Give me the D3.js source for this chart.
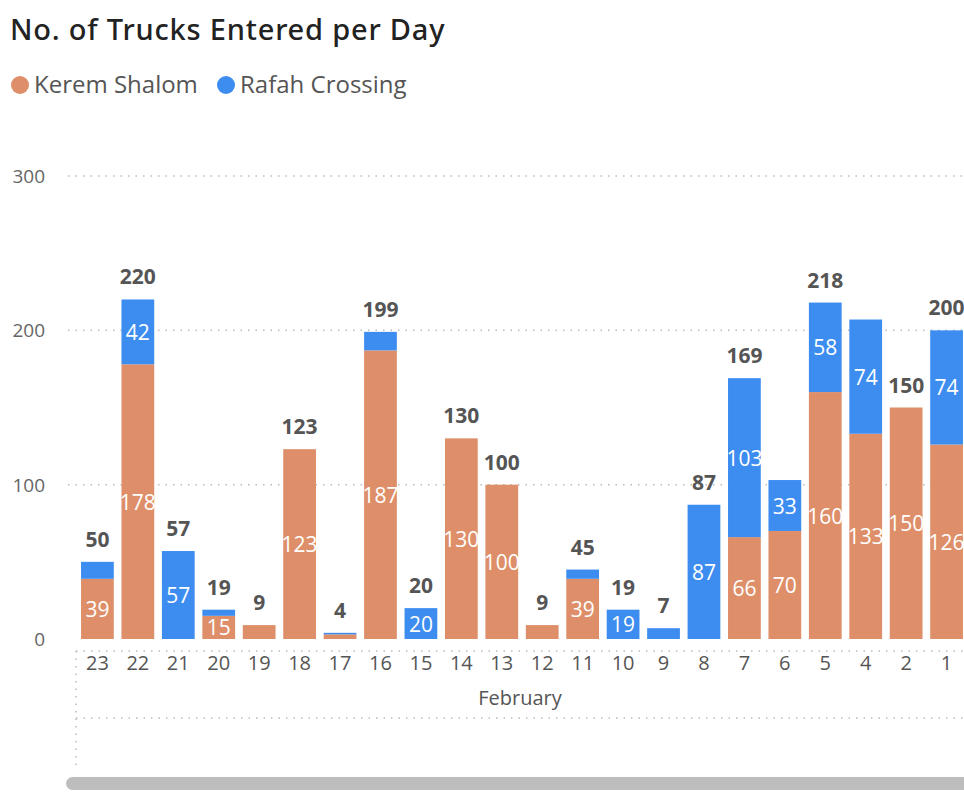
<!DOCTYPE html>
<html><head><meta charset="utf-8">
<script src="https://cdn.jsdelivr.net/npm/d3@7"></script>
<style>body{margin:0;background:#fff;font-family:"Segoe UI","Open Sans",sans-serif}</style>
</head><body><svg id="c" width="964" height="800"></svg>
<script>
var days = ["23","22","21","20","19","18","17","16","15","14","13","12","11","10","9","8","7","6","5","4","2","1"];
var kerem = [39,178,0,15,9,123,3,187,0,130,100,9,39,0,0,0,66,70,160,133,150,126];
var rafah = [11,42,57,4,0,0,1,12,20,0,0,0,6,19,7,87,103,33,58,74,0,74];
var showTotal = [1,1,1,1,1,1,1,1,1,1,1,1,1,1,1,1,1,0,1,0,1,1];
var yTicks = [0,100,200,300];

var orange = "#DE8F69", blue = "#3D8DF0";
var svg = d3.select("#c");
var x = d3.scaleBand().domain(days).range([77, 964+3]).paddingInner(0.19).paddingOuter(0.1);
var y = d3.scaleLinear().domain([0,300]).range([639,176]);

svg.append("text").attr("x",10).attr("y",40).attr("font-size",29).attr("font-weight",500).attr("fill","#222")
  .attr("letter-spacing",0.8).attr("font-family","'Noto Sans',sans-serif").text("No. of Trucks Entered per Day");
var leg = [["Kerem Shalom",orange,20],["Rafah Crossing",blue,226]];
leg.forEach(function(l){
  svg.append("circle").attr("cx",l[2]).attr("cy",85).attr("r",9).attr("fill",l[1]);
  svg.append("text").attr("x",l[2]+14).attr("y",93).attr("font-size",24).attr("fill","#555").text(l[0]);
});

yTicks.forEach(function(t){
  if(t>0) svg.append("line").attr("x1",68).attr("x2",964).attr("y1",y(t)).attr("y2",y(t))
    .attr("stroke","#bbb").attr("stroke-dasharray","1.5,6").attr("stroke-width",1.5);
  svg.append("text").attr("x",45).attr("y",y(t)+7).attr("text-anchor","end")
    .attr("font-size",19).attr("fill","#666").text(t);
});
[651,718].forEach(function(yy){
  svg.append("line").attr("x1",76).attr("x2",964).attr("y1",yy).attr("y2",yy)
    .attr("stroke","#bbb").attr("stroke-dasharray","1.5,6").attr("stroke-width",1.5);
});
svg.append("line").attr("x1",76).attr("x2",76).attr("y1",651).attr("y2",765)
  .attr("stroke","#bbb").attr("stroke-dasharray","1.5,6").attr("stroke-width",1.5);

var g = svg.append("g");
days.forEach(function(d,i){
  var bx = x(d), bw = x.bandwidth();
  var k = kerem[i], r = rafah[i], tot = k + r;
  if(k>0) g.append("rect").attr("x",bx).attr("width",bw).attr("y",y(k)).attr("height",y(0)-y(k)).attr("fill",orange);
  if(r>0) g.append("rect").attr("x",bx).attr("width",bw).attr("y",y(tot)).attr("height",y(k)-y(tot)).attr("fill",blue);
  if(k>=15) g.append("text").attr("x",bx+bw/2).attr("y",(y(0)+y(k))/2+8).attr("text-anchor","middle")
    .attr("font-size",21).attr("fill","#fff").text(k);
  if(r>=19) g.append("text").attr("x",bx+bw/2).attr("y",(y(k)+y(tot))/2+8).attr("text-anchor","middle")
    .attr("font-size",21).attr("fill","#fff").text(r);
  if(showTotal[i]) g.append("text").attr("x",bx+bw/2).attr("y",y(tot)-15).attr("text-anchor","middle")
    .attr("font-size",21).attr("font-weight","bold").attr("fill","#555").text(tot);
  g.append("text").attr("x",bx+bw/2).attr("y",670).attr("text-anchor","middle")
    .attr("font-size",20).attr("fill","#555").text(d);
});
svg.append("text").attr("x",520).attr("y",705).attr("text-anchor","middle")
  .attr("font-size",20).attr("fill","#555").text("February");
svg.append("rect").attr("x",66).attr("y",777).attr("width",910).attr("height",13).attr("rx",6.5).attr("fill","#bdbdbd");
</script></body></html>
